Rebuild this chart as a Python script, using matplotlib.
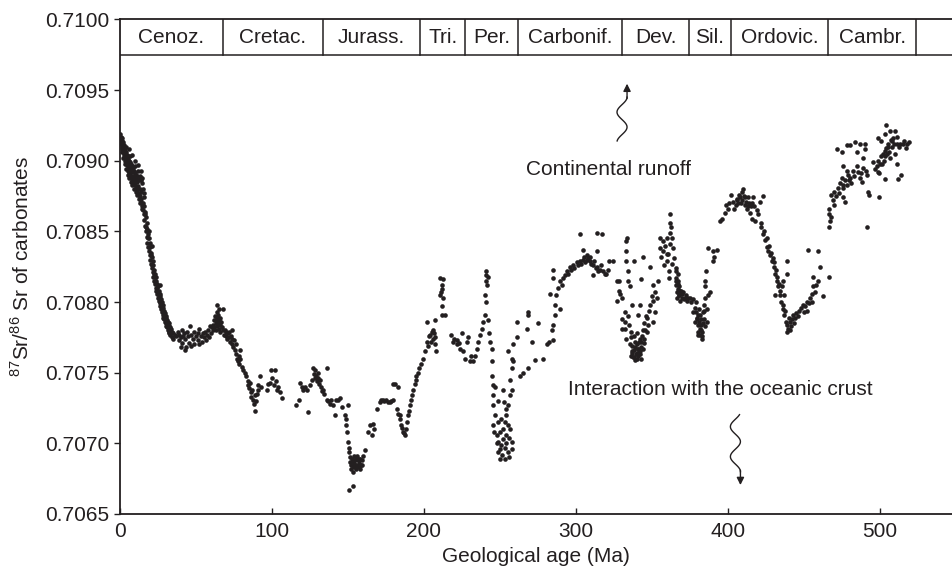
import numpy as np
import matplotlib
matplotlib.use('Agg')
import matplotlib.pyplot as plt

plt.rcParams['font.family'] = ['Liberation Sans', 'DejaVu Sans']
plt.rcParams['mathtext.fontset'] = 'custom'
plt.rcParams['mathtext.rm'] = 'Liberation Sans'

INK = '#231f20'

# geological periods (boundaries in Ma as drawn in the top band)
period_names = ['Cenoz.', 'Cretac.', 'Jurass.', 'Tri.', 'Per.', 'Carbonif.',
                'Dev.', 'Sil.', 'Ordovic.', 'Cambr.']
period_bounds = [0, 67.6, 133.4, 197.4, 227.2, 262.0, 330.5, 374.3, 401.8, 466.0, 523.7]

# (age Ma, 87Sr/86Sr)
cenozoic = [
    (0, 0.70919), (0, 0.70915), (0.5, 0.70917), (0.5, 0.70912), (1, 0.70916), (1, 0.70910),
    (1.5, 0.70914), (1.5, 0.70908), (2, 0.70913), (2, 0.70906), (2.5, 0.70911), (2.5, 0.70904),
    (3, 0.70909), (3, 0.70902), (3.5, 0.70907), (3.5, 0.70900), (4, 0.70906), (4, 0.70899),
    (4.5, 0.70904), (4.5, 0.70897), (5, 0.70903), (5, 0.70895), (5, 0.70899), (5.5, 0.70901),
    (5.5, 0.70893), (6, 0.70900), (6, 0.70892), (6, 0.70896), (6.5, 0.70899), (6.5, 0.70890),
    (7, 0.70898), (7, 0.70889), (7, 0.70894), (7.5, 0.70897), (7.5, 0.70888), (8, 0.70896),
    (8, 0.70887), (8, 0.70892), (8.5, 0.70895), (8.5, 0.70886), (9, 0.70893), (9, 0.70885),
    (9, 0.70889), (9.5, 0.70892), (9.5, 0.70884), (10, 0.70891), (10, 0.70883), (10, 0.70887),
    (10.5, 0.70890), (10.5, 0.70881), (11, 0.70889), (11, 0.70880), (11, 0.70885), (11.5, 0.70888),
    (11.5, 0.70878), (12, 0.70887), (12, 0.70877), (12, 0.70882), (12.5, 0.70886), (12.5, 0.70876),
    (13, 0.70889), (13, 0.70875), (13, 0.70880), (13.5, 0.70886), (13.5, 0.70873), (14, 0.70888),
    (14, 0.70871), (14, 0.70878), (14.5, 0.70884), (14.5, 0.70868), (15, 0.70880), (15, 0.70865),
    (15.5, 0.70874), (15.5, 0.70862), (16, 0.70868), (16, 0.70858), (16.5, 0.70864), (16.5, 0.70854),
    (17, 0.70860), (17, 0.70850), (17.5, 0.70856), (17.5, 0.70846), (18, 0.70852), (18, 0.70842),
    (18.5, 0.70848), (18.5, 0.70839), (19, 0.70845), (19, 0.70836), (19.5, 0.70842), (19.5, 0.70833),
    (20, 0.70839), (20, 0.70830), (20.5, 0.70835), (20.5, 0.70827), (21, 0.70832), (21, 0.70824),
    (21.5, 0.70829), (21.5, 0.70821), (22, 0.70826), (22, 0.70818), (22.5, 0.70823), (22.5, 0.70815),
    (23, 0.70820), (23, 0.70813), (23.5, 0.70818), (23.5, 0.70810), (24, 0.70815), (24, 0.70808),
    (24.5, 0.70813), (24.5, 0.70806), (25, 0.70811), (25, 0.70803), (25.5, 0.70808), (25.5, 0.70801),
    (26, 0.70806), (26, 0.70799), (26.5, 0.70804), (26.5, 0.70797), (27, 0.70802), (27, 0.70795),
    (27.5, 0.70800), (27.5, 0.70793), (28, 0.70798), (28, 0.70791), (28.5, 0.70796), (28.5, 0.70789),
    (29, 0.70794), (29, 0.70788), (29.5, 0.70792), (29.5, 0.70786), (30, 0.70790), (30, 0.70785),
    (30.5, 0.70789), (30.5, 0.70783), (31, 0.70787), (31, 0.70782), (31.5, 0.70786), (31.5, 0.70780),
    (32, 0.70785), (32, 0.70779), (32.5, 0.70783), (32.5, 0.70778), (33, 0.70782), (33, 0.70777),
    (33.5, 0.70781), (34, 0.70779), (34, 0.70775), (35, 0.70778), (35, 0.70774), (36, 0.70777),
    (6, 0.70908), (8, 0.70904), (10, 0.70900), (12, 0.70897), (13.5, 0.70893), (16, 0.70877),
    (19, 0.70850), (21, 0.70840), (26, 0.70812),
    (0.3, 0.70913), (1.2, 0.70906), (2.2, 0.70902), (3.2, 0.70898), (4.2, 0.70894),
    (5.2, 0.70890), (6.2, 0.70888), (7.2, 0.70885), (8.2, 0.70883), (9.2, 0.70880),
    (10.2, 0.70878), (11.2, 0.70876), (12.2, 0.70873), (13.2, 0.70870), (14.2, 0.70866),
    (3.8, 0.70910), (6.8, 0.70903), (9.8, 0.70896), (11.8, 0.70893), (14.8, 0.70888),
    (15.3, 0.70870), (16.3, 0.70862), (17.3, 0.70853), (18.3, 0.70845), (19.3, 0.70839),
    (20.3, 0.70833), (21.3, 0.70826), (22.3, 0.70820), (23.3, 0.70815), (24.3, 0.70810),
    (25.3, 0.70806), (27.3, 0.70798), (29.3, 0.70790), (31.3, 0.70784), (33.3, 0.70779),
    (37, 0.70776), (38, 0.70779), (38.5, 0.70773), (39, 0.70777), (40, 0.70775), (40.5, 0.70780),
    (41, 0.70771), (41.5, 0.70776), (42, 0.70778), (43, 0.70774), (43.5, 0.70768), (44, 0.70779),
    (45, 0.70776), (45.5, 0.70771), (46, 0.70783), (47, 0.70777), (48, 0.70774), (48.5, 0.70779),
    (49, 0.70770), (50, 0.70776), (51, 0.70778), (51.5, 0.70773), (52, 0.70781), (53, 0.70776),
    (54, 0.70772), (54.5, 0.70778), (55, 0.70775), (56, 0.70779), (56.5, 0.70773), (57, 0.70777),
    (58, 0.70780), (58.5, 0.70775), (59, 0.70783), (60, 0.70778), (60.5, 0.70782),
    (40, 0.70768), (43, 0.70766), (47, 0.70769), (52, 0.70770),
    (61, 0.70784), (61.5, 0.70780), (62, 0.70787), (62, 0.70782), (62.5, 0.70790), (63, 0.70785),
    (63, 0.70780), (63.5, 0.70793), (63.5, 0.70787), (64, 0.70798), (64, 0.70789), (64, 0.70783),
    (64.5, 0.70791), (64.5, 0.70785), (65, 0.70795), (65, 0.70787), (65, 0.70781), (65.5, 0.70789),
    (66, 0.70784), (66, 0.70779), (66.5, 0.70786), (67, 0.70782), (67.5, 0.70780),
]

cretaceous = [
    (68, 0.70795), (68.5, 0.70777), (69, 0.70780), (69.5, 0.70776), (70, 0.70779), (70.5, 0.70774),
    (71, 0.70778), (71.5, 0.70775), (72, 0.70779), (72.5, 0.70772), (73, 0.70776), (73.5, 0.70770),
    (74, 0.70774), (74.5, 0.70768), (75, 0.70773), (75.5, 0.70766), (76, 0.70770), (76.5, 0.70763),
    (77, 0.70760), (77.5, 0.70758), (78, 0.70762), (78.5, 0.70756), (79, 0.70760), (80, 0.70754),
    (81, 0.70752), (82, 0.70750), (83, 0.70748), (84, 0.70744), (84.5, 0.70741), (85, 0.70739),
    (85.5, 0.70743), (86, 0.70736), (86.5, 0.70733), (87, 0.70738), (87.5, 0.70731), (88, 0.70728),
    (88.5, 0.70734), (89, 0.70723), (89.5, 0.70730), (90, 0.70735), (90.5, 0.70741), (91, 0.70738),
    (92, 0.70748), (93, 0.70740), (79, 0.70766), (74, 0.70780),
    (96.5, 0.70738), (97.5, 0.70742), (98.7, 0.70743), (99.5, 0.70752), (100, 0.70746),
    (101, 0.70741), (102, 0.70752), (102.5, 0.70744), (103, 0.70738), (104, 0.70740),
    (105, 0.70736), (106.4, 0.70732),
    (116, 0.70727), (118, 0.70731), (118.4, 0.70743), (119.5, 0.70740), (120.6, 0.70738),
    (122, 0.70740), (123, 0.70738), (123.9, 0.70722), (125, 0.70741), (126, 0.70745),
    (127, 0.70753), (127.5, 0.70749), (128, 0.70746), (128.5, 0.70752), (129, 0.70748),
    (129.5, 0.70744), (130, 0.70750), (130.5, 0.70746), (131, 0.70742), (131.6, 0.70745),
    (132, 0.70740), (133, 0.70737),
]

jurassic = [
    (133.8, 0.70738), (134.5, 0.70735), (136, 0.70753), (136, 0.70731), (137, 0.70730),
    (138, 0.70728), (139, 0.70731), (140.4, 0.70727), (141.4, 0.70720), (142, 0.70731),
    (143.6, 0.70731), (144.5, 0.70732), (146, 0.70726), (148, 0.70720), (148.5, 0.70717),
    (149, 0.70713), (149.5, 0.70708), (150, 0.70727),
    (150, 0.70701), (150.5, 0.70697), (150.7, 0.70694), (151, 0.70687), (151.5, 0.70690),
    (152, 0.70685), (152.5, 0.70689), (153, 0.70684), (153, 0.70680), (153.5, 0.70687),
    (154, 0.70691), (154, 0.70683), (154.5, 0.70688), (155, 0.70685), (155.5, 0.70690),
    (156, 0.70684), (156.5, 0.70688), (157, 0.70686), (157.5, 0.70683), (158, 0.70689),
    (158.5, 0.70685), (159, 0.70688), (160, 0.70691), (161, 0.70695), (150.7, 0.70667),
    (152.3, 0.70682), (153.8, 0.70686), (155.2, 0.70682), (156.2, 0.70691), (157.2, 0.70689),
    (158.2, 0.70682), (159.5, 0.70685),
    (153, 0.70670), (163, 0.70708), (164.5, 0.70713), (165.6, 0.70706), (166.6, 0.70714),
    (167, 0.70710), (169, 0.70724), (171, 0.70729), (172, 0.70731), (173, 0.70731),
    (174, 0.70730), (175, 0.70731), (176, 0.70729), (177.6, 0.70729), (178.5, 0.70730),
    (179.6, 0.70731), (179.8, 0.70742), (181, 0.70742), (182, 0.70724), (183, 0.70740),
    (183, 0.70721), (184, 0.70720), (184.5, 0.70717), (185, 0.70713), (185.5, 0.70711),
    (186.4, 0.70708), (187, 0.70707), (187.5, 0.70706), (188, 0.70710), (188.6, 0.70715),
    (189.3, 0.70720), (190, 0.70723), (190.8, 0.70727), (191.5, 0.70731), (192, 0.70734),
    (193, 0.70738), (193.8, 0.70742), (194.5, 0.70745), (195, 0.70748), (196, 0.70750),
    (197, 0.70753),
]

triassic = [
    (198, 0.70756), (199.5, 0.70760), (200.5, 0.70765), (201.8, 0.70772), (202.5, 0.70769),
    (203, 0.70776), (204, 0.70777), (204.5, 0.70772), (205, 0.70779), (206, 0.70774),
    (206.5, 0.70778), (207, 0.70770), (207.5, 0.70775), (208, 0.70765), (201.8, 0.70786),
    (207, 0.70787), (206, 0.70780), (210.5, 0.70805), (211.6, 0.70809), (210.5, 0.70817),
    (212.7, 0.70816), (212, 0.70812), (211, 0.70807), (212.7, 0.70803), (211.7, 0.70797),
    (211.7, 0.70791), (213.5, 0.70791),
    (218, 0.70777), (219, 0.70772), (220, 0.70774), (221.5, 0.70770), (222, 0.70773),
    (223, 0.70771), (223.7, 0.70767), (224.8, 0.70778), (225.9, 0.70765),
]

permian = [
    (227, 0.70760), (228, 0.70772), (229, 0.70775), (230, 0.70758), (231, 0.70762),
    (232.5, 0.70758), (233.6, 0.70762), (234.7, 0.70767), (235.7, 0.70772), (236.8, 0.70777),
    (238, 0.70781), (239, 0.70786), (240, 0.70791), (240, 0.70805), (241, 0.70815),
    (241, 0.70819), (241, 0.70822), (242, 0.70787), (243.4, 0.70772), (244.5, 0.70767),
    (244.5, 0.70758), (244.5, 0.70748), (245.6, 0.70741), (245.6, 0.70734), (245.6, 0.70727),
    (246.7, 0.70720), (245.6, 0.70713), (246, 0.70708), (247.8, 0.70706), (249, 0.70701),
    (250, 0.70696), (250, 0.70689), (253, 0.70689), (252, 0.70710), (254, 0.70706),
    (255, 0.70713), (256.6, 0.70710), (257.7, 0.70701), (257.7, 0.70696), (254, 0.70720),
    (254, 0.70724), (256.6, 0.70734), (257.7, 0.70738), (256.6, 0.70745), (257.7, 0.70753),
    (257.7, 0.70760), (258.8, 0.70758), (255.5, 0.70765), (258.8, 0.70770), (261, 0.70775),
    (261, 0.70786), (252, 0.70738), (252.5, 0.70729), (248, 0.70700), (249, 0.70694),
    (251, 0.70699), (251.5, 0.70692), (252, 0.70703), (253, 0.70697), (254, 0.70700),
    (255, 0.70694), (256, 0.70704), (256, 0.70690), (248.5, 0.70715), (250, 0.70708),
    (251, 0.70717), (253, 0.70715), (255, 0.70727), (249, 0.70730), (247, 0.70740),
    (241.5, 0.70812), (242, 0.70818), (240.5, 0.70800), (243, 0.70778),
]

carboniferous = [
    (263, 0.70748), (265, 0.70750), (268.6, 0.70753), (268.6, 0.70791), (268.6, 0.70793),
    (267.5, 0.70781), (271, 0.70772), (273, 0.70759), (275, 0.70785), (278.5, 0.70760),
    (280.7, 0.70770), (282, 0.70772), (283, 0.70806), (284, 0.70780), (285, 0.70784),
    (285, 0.70773), (286, 0.70791), (286, 0.70798), (285, 0.70817), (285, 0.70823),
    (287, 0.70805), (288, 0.70810),
    (289.5, 0.70815), (289.5, 0.70795), (290.5, 0.70812), (291.6, 0.70817), (292.5, 0.70819),
    (293.9, 0.70822), (295, 0.70820), (296, 0.70825), (297, 0.70823), (298, 0.70826),
    (299, 0.70824), (300.5, 0.70828), (301.5, 0.70826), (302.6, 0.70829), (302.6, 0.70848),
    (303.5, 0.70827), (304.8, 0.70830), (304.8, 0.70837), (305.5, 0.70832), (306, 0.70828),
    (307, 0.70830), (307.5, 0.70833), (308, 0.70831), (309, 0.70829), (309.5, 0.70832),
    (310, 0.70827), (311, 0.70826), (311.4, 0.70819), (312, 0.70829), (313, 0.70824),
    (313.6, 0.70825), (313.6, 0.70836), (313.6, 0.70849), (314.5, 0.70822), (315.8, 0.70823),
    (316.5, 0.70826), (317, 0.70848), (318, 0.70822), (319, 0.70820), (320, 0.70820),
    (321, 0.70823), (322, 0.70829), (324.6, 0.70829), (326.8, 0.70815), (326.8, 0.70801),
    (328, 0.70808), (328, 0.70815), (329, 0.70806), (330, 0.70803),
]

devonian = [
    (330.5, 0.70788), (330.5, 0.70781), (332, 0.70793), (332, 0.70786), (332.5, 0.70781),
    (333, 0.70774), (333, 0.70843), (333.5, 0.70845), (333, 0.70836), (333, 0.70829),
    (334, 0.70822), (334, 0.70815), (335.5, 0.70811), (335.5, 0.70770), (336, 0.70775),
    (336.6, 0.70765), (336.6, 0.70798), (337, 0.70769), (337.7, 0.70761), (338, 0.70829),
    (338.5, 0.70766), (338.8, 0.70759), (339.5, 0.70763), (340, 0.70770), (340, 0.70760),
    (340.5, 0.70767), (341, 0.70791), (341, 0.70762), (341.5, 0.70772), (342, 0.70765),
    (342, 0.70774), (342, 0.70798), (342.5, 0.70760), (343, 0.70816), (343, 0.70768),
    (343.5, 0.70776), (344, 0.70832), (344, 0.70767), (344.5, 0.70771), (345, 0.70774),
    (345.5, 0.70780), (346.5, 0.70779), (347, 0.70789), (347.5, 0.70784), (348.7, 0.70825),
    (348, 0.70794), (349, 0.70798), (350, 0.70804), (351, 0.70812), (351, 0.70801),
    (351, 0.70786), (352, 0.70807), (352, 0.70793), (353, 0.70803), (354, 0.70815),
    (336, 0.70762), (337, 0.70764), (338, 0.70761), (339, 0.70768), (340, 0.70764),
    (341, 0.70767), (342, 0.70763), (343, 0.70772), (339, 0.70772), (336.5, 0.70779),
    (338, 0.70776), (340, 0.70778), (335, 0.70784), (334.5, 0.70790), (344, 0.70780),
    (345, 0.70785), (346, 0.70790),
    (355, 0.70845), (355, 0.70838), (356, 0.70832), (357, 0.70843), (357.5, 0.70836),
    (358, 0.70826), (358.5, 0.70840), (359.6, 0.70845), (359.6, 0.70829), (360, 0.70834),
    (360.7, 0.70834), (361, 0.70822), (361, 0.70817), (361.8, 0.70849), (361.8, 0.70862),
    (362, 0.70856), (362, 0.70841), (362.5, 0.70853), (363, 0.70845), (363, 0.70827),
    (364, 0.70838), (364.5, 0.70831),
    (365.5, 0.70824), (366, 0.70822), (366, 0.70817), (366, 0.70812), (366.5, 0.70807),
    (366.5, 0.70803), (367, 0.70815), (367, 0.70809), (367.5, 0.70805), (368, 0.70805),
    (368, 0.70811), (368.5, 0.70801), (369, 0.70808), (369.5, 0.70803), (370, 0.70806),
    (370.6, 0.70807), (371, 0.70802), (371.7, 0.70803), (372.5, 0.70805), (373, 0.70801),
    (374, 0.70803), (366.8, 0.70820), (367.3, 0.70813), (368.3, 0.70808), (365.8, 0.70815),
]

silurian = [
    (375, 0.70803), (376, 0.70800), (377, 0.70802), (377, 0.70793), (378, 0.70796),
    (379, 0.70793), (379, 0.70800), (379.5, 0.70788), (380, 0.70784), (380, 0.70791),
    (380.5, 0.70777), (381, 0.70786), (381.6, 0.70781), (381, 0.70795), (382, 0.70788),
    (382.7, 0.70774), (382.5, 0.70784), (383, 0.70779), (383.7, 0.70793), (384, 0.70788),
    (384.5, 0.70798), (384.9, 0.70803), (385, 0.70811), (385, 0.70815), (385.5, 0.70822),
    (385, 0.70783), (386, 0.70795), (386, 0.70786), (387, 0.70805), (387, 0.70838),
    (388, 0.70807), (390, 0.70836), (390, 0.70829), (391, 0.70832), (392.6, 0.70837),
    (380, 0.70779), (378.5, 0.70786), (381.5, 0.70777), (383, 0.70776),
    (379.8, 0.70789), (381.3, 0.70791), (382.3, 0.70780), (383.5, 0.70785), (384.2, 0.70794),
    (394.7, 0.70857), (396, 0.70859), (398, 0.70863), (399, 0.70869), (400, 0.70866),
    (401, 0.70870),
]

ordovician = [
    (402, 0.70876), (403.5, 0.70871), (404, 0.70866), (405, 0.70869), (405.7, 0.70873),
    (406.5, 0.70870), (407, 0.70876), (408, 0.70874), (409, 0.70878), (409.5, 0.70872),
    (410, 0.70880), (410.5, 0.70875), (411, 0.70869), (412, 0.70871), (412.5, 0.70866),
    (413, 0.70874), (414, 0.70870), (414.5, 0.70863), (415, 0.70868), (415.5, 0.70859),
    (416.6, 0.70874), (417, 0.70868), (418, 0.70857), (419, 0.70865), (420, 0.70862),
    (421, 0.70871), (421.5, 0.70856), (422, 0.70853), (423, 0.70875), (423, 0.70848),
    (424, 0.70850), (424.5, 0.70844), (425.4, 0.70839), (426, 0.70845), (426.5, 0.70836),
    (427, 0.70840), (427.6, 0.70833), (428, 0.70835), (428.7, 0.70829), (429.5, 0.70831),
    (430, 0.70825), (430.5, 0.70828), (431, 0.70820), (431.5, 0.70823), (432, 0.70815),
    (432.5, 0.70818), (433, 0.70811), (433.5, 0.70813), (434, 0.70805), (434.5, 0.70808),
    (435, 0.70800), (435.5, 0.70811), (436, 0.70795), (436, 0.70815), (436.5, 0.70798),
    (437, 0.70791), (437.5, 0.70794), (438, 0.70786), (438.6, 0.70829), (438.6, 0.70779),
    (439, 0.70784), (439.7, 0.70781), (440, 0.70789), (440.8, 0.70786), (441, 0.70780),
    (441.5, 0.70783), (442, 0.70788), (443, 0.70791), (443.5, 0.70785), (444, 0.70789),
    (445, 0.70792), (446, 0.70790), (447, 0.70794), (448, 0.70796), (449.5, 0.70798),
    (450, 0.70793), (451, 0.70797), (451.8, 0.70800), (452, 0.70794), (452.8, 0.70837),
    (453, 0.70799), (454, 0.70803), (455, 0.70806), (455.5, 0.70800), (456, 0.70811),
    (456, 0.70818), (457, 0.70807), (458, 0.70812), (459.4, 0.70815), (459.4, 0.70836),
    (460.5, 0.70825), (462.7, 0.70804), (431, 0.70805), (438.6, 0.70820), (437, 0.70805),
    (406, 0.70872), (408.5, 0.70870), (411.5, 0.70874), (413.5, 0.70868), (416, 0.70870),
]

cambrian = [
    (466.7, 0.70818), (466.7, 0.70866), (466.7, 0.70862), (466.7, 0.70853), (467, 0.70857),
    (467.5, 0.70860), (468, 0.70876), (469, 0.70872), (470, 0.70878), (470, 0.70869),
    (471, 0.70875), (471.5, 0.70908), (472.6, 0.70881), (473, 0.70877), (473.7, 0.70884),
    (474.8, 0.70888), (474.8, 0.70906), (475.5, 0.70883), (476, 0.70881), (476, 0.70874),
    (476, 0.70896), (477, 0.70871), (477, 0.70886), (478, 0.70883), (478, 0.70911),
    (478.5, 0.70893), (479, 0.70890), (479.5, 0.70886), (480, 0.70911), (480.5, 0.70888),
    (481, 0.70884), (482, 0.70893), (483, 0.70889), (483.6, 0.70913), (484.6, 0.70896),
    (485, 0.70906), (485.5, 0.70892), (486.8, 0.70888), (486.8, 0.70912), (487.5, 0.70891),
    (488, 0.70885), (489, 0.70895), (489, 0.70902), (490, 0.70912), (490, 0.70908),
    (491, 0.70893), (491.5, 0.70890), (491.7, 0.70853), (492.3, 0.70878), (493, 0.70876),
    (495.6, 0.70899), (496.5, 0.70894), (497.8, 0.70896), (498.5, 0.70892), (499, 0.70900),
    (499, 0.70916), (499.6, 0.70874), (499.6, 0.70891), (500, 0.70898), (500.5, 0.70914),
    (501, 0.70903), (501.5, 0.70898), (502, 0.70905), (502.5, 0.70900), (503, 0.70907),
    (503, 0.70919), (503, 0.70887), (503.5, 0.70903), (504, 0.70909), (504, 0.70925),
    (504.5, 0.70905), (505, 0.70910), (505.5, 0.70912), (506, 0.70906), (506.6, 0.70902),
    (506.6, 0.70921), (507, 0.70915), (507.7, 0.70914), (508, 0.70910), (508.8, 0.70916),
    (509.5, 0.70912), (510, 0.70921), (510, 0.70905), (511, 0.70912), (511, 0.70898),
    (511.5, 0.70917), (512, 0.70887), (512.5, 0.70910), (513, 0.70912), (514, 0.70890),
    (515, 0.70912), (516, 0.70914), (518, 0.70912), (517, 0.70909), (519, 0.70913),
]

yticks = [0.7065, 0.7070, 0.7075, 0.7080, 0.7085, 0.7090, 0.7095, 0.7100]
xticks = [0, 100, 200, 300, 400, 500]

fig = plt.figure(figsize=(9.52, 5.76), dpi=100)
ax = fig.add_axes([120 / 952, 1 - 514 / 576, 832 / 952, 494.6 / 576])

pts = np.array(cenozoic + cretaceous + jurassic + triassic + permian +
               carboniferous + devonian + silurian + ordovician + cambrian)
ax.scatter(pts[:, 0], pts[:, 1], s=11, c=INK, linewidths=0, zorder=3)

ax.set_xlim(0, 547.4)
ax.set_ylim(0.7065, 0.7100)
ax.set_xticks(xticks)
ax.set_yticks(yticks)
ax.set_yticklabels(['%.4f' % v for v in yticks])
ax.tick_params(axis='x', direction='in', length=4.5, width=1, pad=6,
               labelsize=15, colors=INK)
ax.tick_params(axis='y', direction='out', length=4.5, width=1, pad=3,
               labelsize=15, colors=INK)
for side in ['left', 'bottom', 'top']:
    ax.spines[side].set_linewidth(1.3)
    ax.spines[side].set_color(INK)
ax.spines['right'].set_visible(False)

# period band along the top
band_lo = 0.709748
ax.axhline(band_lo, color=INK, lw=1.1, zorder=2)
for b in period_bounds[1:]:
    ax.plot([b, b], [band_lo, 0.7100], color=INK, lw=1.1, zorder=2)
for i, name in enumerate(period_names):
    xc = (period_bounds[i] + period_bounds[i + 1]) / 2
    ax.text(xc, 0.709874, name, ha='center', va='center', fontsize=15, color=INK)

ax.set_xlabel('Geological age (Ma)', fontsize=15, color=INK, labelpad=4)
ax.text(-0.118, 0.5, r'$^{87}$Sr/$^{86}$ Sr of carbonates', transform=ax.transAxes,
        rotation=90, ha='center', va='center', fontsize=15, color=INK)

# annotations with wavy arrows
ax.text(321.5, 0.708935, 'Continental runoff', ha='center', va='center',
        fontsize=15, color=INK)
ax.text(394.7, 0.707379, 'Interaction with the oceanic crust', ha='center',
        va='center', fontsize=15, color=INK)

amp, period = 3.3, 0.000212
# up arrow
yy = np.linspace(0.70914, 0.70945, 80)
xx = 333.6 - amp + amp * np.cos(2 * np.pi * (0.70945 - yy) / period)
ax.plot(xx, yy, color=INK, lw=1)
ax.annotate('', xy=(333.6, 0.709545), xytext=(333.6, 0.70944),
            arrowprops=dict(arrowstyle='-|>', color=INK, lw=1, mutation_scale=11,
                            shrinkA=0, shrinkB=0))
# down arrow
yy = np.linspace(0.707203, 0.70680, 80)
xx = 408.2 - amp + amp * np.cos(2 * np.pi * (yy - 0.70680) / period)
ax.plot(xx, yy, color=INK, lw=1)
ax.annotate('', xy=(408.2, 0.706705), xytext=(408.2, 0.70681),
            arrowprops=dict(arrowstyle='-|>', color=INK, lw=1, mutation_scale=11,
                            shrinkA=0, shrinkB=0))

fig.savefig('out.png', dpi=100)
